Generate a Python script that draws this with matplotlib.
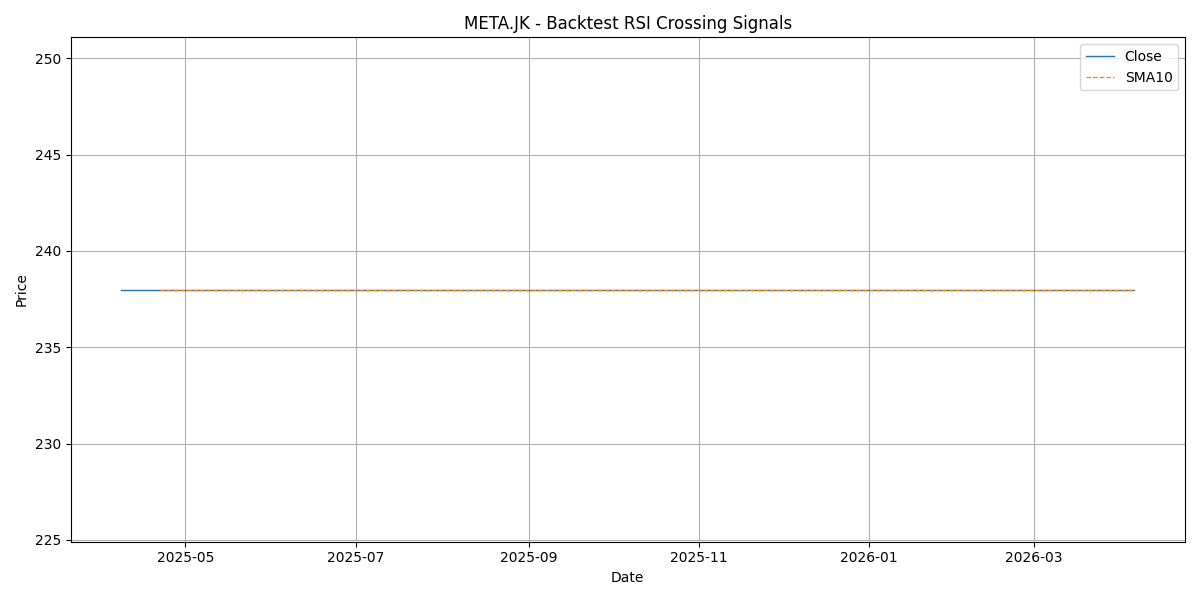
import matplotlib
matplotlib.use('Agg')
import matplotlib.pyplot as plt
import pandas as pd

ticker = 'META.JK'

# hari bursa (tanpa libur Jumat Agung)
holidays = ['2025-04-18', '2026-04-03']
dates = pd.bdate_range('2025-04-08', '2026-04-06')
dates = dates[~dates.isin(pd.to_datetime(holidays))]

# harga penutupan harian (datar sepanjang periode)
close_price = 238.0
close = [close_price] * len(dates)

df = pd.DataFrame({'Close': close}, index=dates)
df['SMA10'] = df['Close'].rolling(10).mean()

fig, ax = plt.subplots(figsize=(12, 6), dpi=100)
ax.plot(df.index, df['Close'], label='Close', color='tab:blue', linewidth=1)
ax.plot(df.index, df['SMA10'], label='SMA10', color='tab:orange',
        linestyle='--', linewidth=0.9)

ax.set_title(f'{ticker} - Backtest RSI Crossing Signals')
ax.set_xlabel('Date')
ax.set_ylabel('Price')
ax.legend(loc='upper right')
ax.grid(True)

plt.tight_layout()
plt.savefig('out.png')
